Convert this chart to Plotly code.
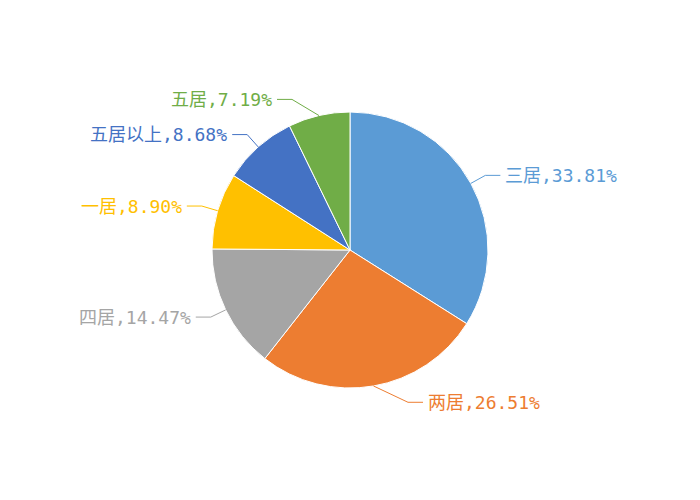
import math

import plotly.graph_objects as go

# data, clockwise from 12 o'clock
labels = ["三居", "两居", "四居", "一居", "五居以上", "五居"]
shares = [33.81, 26.51, 14.47, 8.90, 8.68, 7.19]
colors = ["#5B9BD5", "#ED7D31", "#A5A5A5", "#FFC000", "#4472C4", "#70AD47"]

W, H = 700, 500
# page body adds an 8px offset, so the centre sits at (350, 250) on screen
CX, CY, R = 342, 242, 138
FONT = "DejaVu Sans Mono, Noto Sans CJK SC"

fig = go.Figure()
fig.add_trace(
    go.Pie(
        labels=labels,
        values=shares,
        sort=False,
        direction="clockwise",
        rotation=0,
        marker=dict(colors=colors, line=dict(color="white", width=1)),
        textinfo="none",
        hoverinfo="label+percent",
        domain=dict(x=[(CX - R) / W, (CX + R) / W], y=[1 - (CY + R) / H, 1 - (CY - R) / H]),
        showlegend=False,
    )
)


def px(x, y):
    return x / W, 1 - y / H


# outside labels with leader lines, placed from each slice's mid angle
total = sum(shares)
cum = 0.0
for lab, val, col in zip(labels, shares, colors):
    mid = (cum + val / 2) / total * 2 * math.pi
    cum += val
    s, c = math.sin(mid), math.cos(mid)
    side = 1 if s >= 0 else -1
    x0, y0 = CX + R * s, CY - R * c
    ex = CX + side * max(abs(1.12 * R * s), 58)
    ey = CY - 1.12 * R * c
    hx = ex + side * 15
    pts = [px(x0, y0), px(ex, ey), px(hx, ey)]
    path = "M {} {} L {} {} L {} {}".format(*[v for p in pts for v in p])
    fig.add_shape(
        type="path",
        path=path,
        xref="paper",
        yref="paper",
        line=dict(color=col, width=1),
    )
    ax, ay = px(hx + side * 3, ey)
    fig.add_annotation(
        x=ax,
        y=ay,
        xref="paper",
        yref="paper",
        text=f"{lab},{val:.2f}%",
        showarrow=False,
        xanchor="left" if side > 0 else "right",
        yanchor="middle",
        font=dict(family=FONT, size=18, color=col),
    )

fig.update_layout(
    width=W,
    height=H,
    margin=dict(l=0, r=0, t=0, b=0),
    paper_bgcolor="white",
    plot_bgcolor="white",
)

fig.write_html("out.html")
